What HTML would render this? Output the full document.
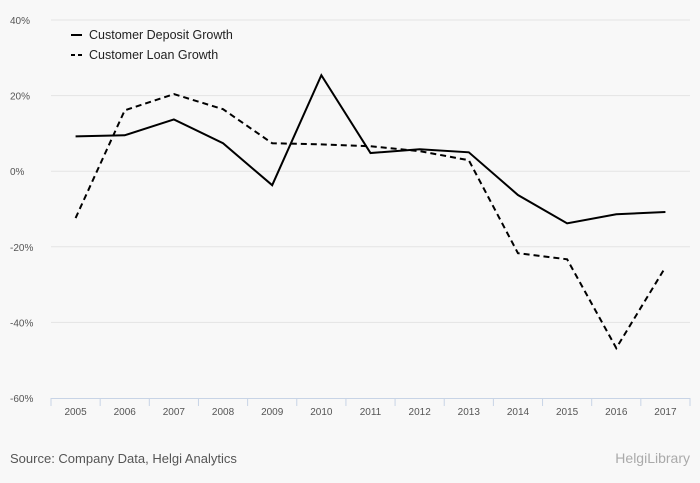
<!DOCTYPE html>
<html><head><meta charset="utf-8"><style>
body{margin:0;background:#f8f8f8;font-family:"Liberation Sans",sans-serif}
svg{display:block}
</style></head><body>
<svg width="700" height="483">
<rect width="700" height="483" fill="#f8f8f8"/>
<g id="grid"></g><g id="axes"></g><g id="series"></g>
<g font-size="12.5" fill="#222">
<line x1="71" y1="35" x2="82" y2="35" stroke="#000" stroke-width="2"/>
<text x="89" y="39">Customer Deposit Growth</text>
<line x1="71" y1="55" x2="82" y2="55" stroke="#000" stroke-width="2" stroke-dasharray="4,3"/>
<text x="89" y="59">Customer Loan Growth</text>
</g>
<text x="10" y="463" font-size="13" fill="#555">Source: Company Data, Helgi Analytics</text>
<text x="690" y="463" font-size="14" fill="#aaa" text-anchor="end">HelgiLibrary</text>
</svg>
<script>
const categories=["2005","2006","2007","2008","2009","2010","2011","2012","2013","2014","2015","2016","2017"];
const depositGrowth=[9.2,9.5,13.7,7.4,-3.7,25.4,4.8,5.8,5,-6.3,-13.8,-11.4,-10.8];
const loanGrowth=[-12.4,16.1,20.4,16.4,7.4,7.1,6.6,5.3,2.9,-21.7,-23.3,-46.8,-25.4];
const yTicks=[40,20,0,-20,-40,-60];
const NS="http://www.w3.org/2000/svg";
const L=51,R=690,T=20,B=398,yMin=-60,yMax=40;
const band=(R-L)/categories.length;
const x=i=>L+band*(i+0.5);
const y=v=>B-(v-yMin)/(yMax-yMin)*(B-T);
function mk(tag,attrs,parent){const e=document.createElementNS(NS,tag);for(const k in attrs)e.setAttribute(k,attrs[k]);document.getElementById(parent).appendChild(e);return e;}
yTicks.forEach(t=>{
 if(t!==yMin){const g=mk('line',{x1:L,x2:R,y1:y(t),y2:y(t),stroke:'#e4e4e4','stroke-width':1},'grid');
 
 }
 const tx=mk('text',{x:10,y:y(t)+4,'font-size':10,fill:'#555'},'axes');
 tx.textContent=t+'%';
 
 
});
const ax=mk('line',{x1:L,x2:R,y1:B+0.5,y2:B+0.5,stroke:'#c8d4e6'},'axes');


for(let i=0;i<=categories.length;i++){
 const tk=mk('line',{x1:L+band*i,x2:L+band*i,y1:B,y2:B+8,stroke:'#c8d4e6'},'axes');
 
 
}
categories.forEach((c,i)=>{
 const t=mk('text',{x:x(i),y:B+17,'font-size':10,fill:'#555','text-anchor':'middle'},'axes');
 t.textContent=c;
 
 
});
function line(data,dash,name){
 const p=mk('path',{d:data.map((v,i)=>(i?'L':'M')+x(i)+' '+y(v)).join(''),fill:'none',stroke:'#000','stroke-width':2,'stroke-dasharray':dash},'series');
 
 
}
line(depositGrowth,'none','deposit-growth-line');
line(loanGrowth,'6,4','loan-growth-line');
</script>
</body></html>
